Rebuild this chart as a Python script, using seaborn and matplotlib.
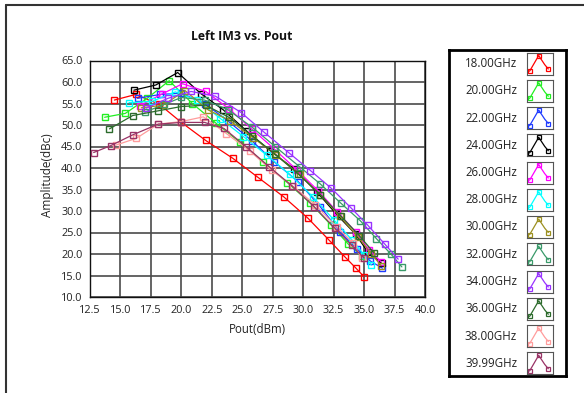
import matplotlib
matplotlib.use("Agg")
import matplotlib.pyplot as plt
from matplotlib.lines import Line2D
from matplotlib.ticker import MultipleLocator
import seaborn as sns
import pandas as pd

# ---------------- data ----------------
freq_labels = ["18.00GHz", "20.00GHz", "22.00GHz", "24.00GHz", "26.00GHz", "28.00GHz",
               "30.00GHz", "32.00GHz", "34.00GHz", "36.00GHz", "38.00GHz", "39.99GHz"]
freq_colors = ["#ff0000", "#22ee22", "#1f3bff", "#000000", "#ff00ff", "#00ffff",
               "#9c9020", "#3a9a6a", "#9933ff", "#2c6b2c", "#ff9c9c", "#993366"]

pout_18 = [14.5, 16.25, 18.2, 20.0, 22.0, 24.2, 26.3, 28.4, 30.4, 32.1, 33.4, 34.3, 35.0]
im3_18 = [55.8, 57.1, 54.8, 50.6, 46.4, 42.3, 37.8, 33.3, 28.3, 23.3, 19.4, 16.8, 14.7]
pout_20 = [13.7, 15.4, 17.2, 19.0, 20.9, 22.85, 24.8, 26.7, 28.7, 30.6, 32.3, 33.7, 34.8]
im3_20 = [51.8, 52.7, 56.2, 60.3, 55.0, 50.4, 46.0, 41.5, 36.6, 31.8, 26.7, 22.3, 19.6]
pout_22 = [16.4, 18.25, 20.0, 21.9, 23.8, 25.8, 27.6, 29.6, 31.4, 33.0, 34.45, 35.5, 36.5]
im3_22 = [56.2, 57.1, 57.4, 55.0, 51.0, 46.3, 41.5, 36.8, 31.0, 25.2, 21.1, 18.4, 16.7]
pout_24 = [16.1, 17.9, 19.7, 21.6, 23.45, 25.4, 27.3, 29.25, 31.1, 32.75, 34.3, 35.3, 36.45]
im3_24 = [58.1, 59.3, 62.2, 57.3, 53.5, 48.5, 44.0, 39.8, 34.5, 29.2, 24.6, 20.5, 17.8]
pout_26 = [16.6, 18.4, 20.1, 22.0, 23.9, 25.8, 27.6, 29.5, 31.2, 32.8, 34.3, 35.4, 36.4]
im3_26 = [54.5, 57.2, 59.6, 57.8, 53.8, 49.0, 44.5, 39.5, 34.8, 29.8, 25.2, 21.0, 18.2]
pout_28 = [15.7, 17.6, 19.5, 21.3, 23.2, 25.1, 27.0, 28.9, 30.8, 32.5, 34.0, 35.0, 35.6]
im3_28 = [55.2, 55.5, 57.7, 55.8, 51.5, 47.3, 43.0, 38.5, 33.3, 28.0, 23.3, 19.8, 17.4]
pout_30 = [16.7, 18.5, 20.3, 22.2, 24.0, 25.9, 27.8, 29.7, 31.4, 33.0, 34.5, 35.6, 36.4]
im3_30 = [54.0, 54.6, 58.0, 53.5, 51.0, 47.0, 43.0, 38.5, 33.8, 28.8, 24.0, 20.0, 17.3]
pout_32 = [17.0, 18.6, 20.0, 21.9, 23.8, 25.8, 27.7, 29.7, 31.4, 33.1, 34.7, 36.0, 37.2, 38.1]
im3_32 = [53.0, 54.8, 56.4, 55.8, 53.6, 49.5, 45.0, 40.3, 36.3, 31.8, 27.7, 23.6, 20.0, 17.0]
pout_34 = [17.1, 18.9, 20.8, 22.8, 24.9, 26.8, 28.8, 30.6, 32.3, 33.9, 35.3, 36.7, 37.8]
im3_34 = [53.9, 56.2, 57.8, 56.7, 52.9, 48.3, 43.6, 39.4, 35.3, 30.8, 26.7, 22.3, 18.8]
pout_36 = [14.1, 16.0, 18.1, 20.0, 22.0, 23.9, 25.8, 27.7, 29.6, 31.4, 33.1, 34.6, 35.8]
im3_36 = [49.1, 52.2, 53.3, 54.3, 54.6, 51.8, 47.5, 43.2, 38.6, 33.8, 28.8, 24.3, 20.3]
pout_38 = [14.6, 16.3, 18.1, 20.0, 21.8, 23.7, 25.6, 27.4, 29.2, 31.0, 32.75, 34.1, 34.8]
im3_38 = [45.3, 46.9, 50.2, 50.8, 51.9, 48.0, 44.0, 39.5, 35.7, 31.4, 26.3, 22.6, 19.0]
pout_40 = [12.8, 14.2, 16.0, 18.1, 20.0, 21.9, 23.5, 25.3, 27.2, 29.1, 30.9, 32.6, 34.0, 35.0]
im3_40 = [43.6, 45.2, 47.7, 50.2, 50.6, 50.6, 49.2, 45.0, 40.3, 35.8, 31.0, 26.0, 22.0, 19.0]

x_ticks = [12.5, 15.0, 17.5, 20.0, 22.5, 25.0, 27.5, 30.0, 32.5, 35.0, 37.5, 40.0]
y_ticks = [10.0, 15.0, 20.0, 25.0, 30.0, 35.0, 40.0, 45.0, 50.0, 55.0, 60.0, 65.0]

title_text = "Left IM3 vs. Pout"
x_label = "Pout(dBm)"
y_label = "Amplitude(dBc)"

pouts = [pout_18, pout_20, pout_22, pout_24, pout_26, pout_28,
         pout_30, pout_32, pout_34, pout_36, pout_38, pout_40]
im3s = [im3_18, im3_20, im3_22, im3_24, im3_26, im3_28,
        im3_30, im3_32, im3_34, im3_36, im3_38, im3_40]

# ---------------- style ----------------
sns.set_style("white")
plt.rcParams["font.family"] = ["Open Sans", "DejaVu Sans"]

W, H = 584, 393
fig = plt.figure(figsize=(W / 100, H / 100), dpi=100)
fig.patch.set_facecolor("white")

# plot area in pixels: x 90..425, y 60.5..297
ax = fig.add_axes([90 / W, 1 - 297 / H, 335 / W, 236.5 / H])

for lbl, col, xs, ys in zip(freq_labels, freq_colors, pouts, im3s):
    df = pd.DataFrame({"pout": xs, "im3": ys})
    sns.lineplot(data=df, x="pout", y="im3", sort=False, color=col, lw=0.9,
                 marker="s", markersize=4.2, markerfacecolor="none",
                 markeredgecolor=col, markeredgewidth=1.0, ax=ax, legend=False,
                 zorder=3)

ax.set_xlim(x_ticks[0], x_ticks[-1])
ax.set_ylim(y_ticks[0], y_ticks[-1])
ax.set_xticks(x_ticks)
ax.set_yticks(y_ticks)
ax.set_xticklabels([f"{v:.1f}" for v in x_ticks])
ax.set_yticklabels([f"{v:.1f}" for v in y_ticks])
ax.xaxis.set_minor_locator(MultipleLocator(0.5))
ax.yaxis.set_minor_locator(MultipleLocator(2.5))
ax.tick_params(axis="both", which="major", direction="out", length=4, width=1,
               color="#222222", labelsize=7.8, labelcolor="#222222", pad=1.5)
ax.tick_params(axis="both", which="minor", direction="out", length=2.5, width=0.8,
               color="#222222")
ax.grid(True, which="major", color="#4a4a4a", lw=1.2, zorder=0)
for s in ax.spines.values():
    s.set_color("#111111")
    s.set_linewidth(1.0)
ax.set_xlabel(x_label, fontsize=8.3, color="#222222", labelpad=5)
ax.set_ylabel("")
fig.text(47 / W, 1 - 175 / H, y_label, rotation=90, ha="center", va="center",
         fontsize=8.5, color="#222222")
fig.text(242 / W, 1 - 37 / H, title_text, ha="center", va="center",
         fontsize=8.8, fontweight="bold", color="#111111")

# ---------------- legend ----------------
lx0, ly0, lx1, ly1 = 449, 50, 566, 376
lax = fig.add_axes([lx0 / W, 1 - ly1 / H, (lx1 - lx0) / W, (ly1 - ly0) / H])
lax.set_xlim(0, 1)
lax.set_ylim(0, 1)
lax.set_xticks([])
lax.set_yticks([])
for s in lax.spines.values():
    s.set_color("#000000")
    s.set_linewidth(2)

row0, step = 63.5, 27.25
icon_xs = [0.1, 0.45, 0.68, 0.82]
icon_ys = [0.15, 0.86, 0.45, 0.25]
for i, (lbl, col) in enumerate(zip(freq_labels, freq_colors)):
    cy = row0 + i * step
    fig.text(491 / W, 1 - cy / H, lbl, ha="center", va="center",
             fontsize=8.3, color="#222222")
    iax = fig.add_axes([527 / W, 1 - (cy + 11) / H, 26 / W, 22 / H])
    iax.set_xlim(0, 1)
    iax.set_ylim(0, 1)
    iax.set_xticks([])
    iax.set_yticks([])
    for s in iax.spines.values():
        s.set_color("#555555")
        s.set_linewidth(0.8)
    iax.plot(icon_xs, icon_ys, color=col, lw=0.9)
    iax.plot([icon_xs[0], icon_xs[1], icon_xs[3]], [icon_ys[0], icon_ys[1], icon_ys[3]],
             ls="none", marker="s", ms=3.2, mfc="none", mec=col, mew=0.9)

# outer frame lines of the panel
fig.add_artist(Line2D([6 / W, 1], [1 - 5 / H, 1 - 5 / H], transform=fig.transFigure,
                      color="#333333", lw=1.5))
fig.add_artist(Line2D([6 / W, 6 / W], [0, 1 - 5 / H], transform=fig.transFigure,
                      color="#333333", lw=1.5))

fig.savefig("out.png", dpi=100, facecolor="white")
